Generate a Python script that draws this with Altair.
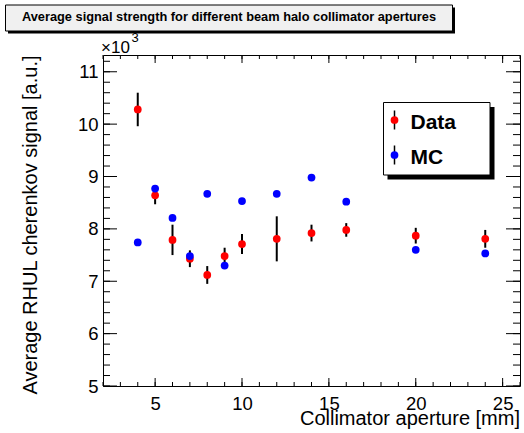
import altair as alt
import pandas as pd

# ---- data (values in units of 10^3 a.u.) ----
aperture = [4, 5, 6, 7, 8, 9, 10, 12, 14, 16, 20, 24]
data_val = [10.28, 8.64, 7.79, 7.43, 7.12, 7.48, 7.71, 7.81, 7.92, 7.98, 7.87, 7.81]
data_err = [0.32, 0.17, 0.29, 0.16, 0.17, 0.16, 0.19, 0.43, 0.16, 0.13, 0.15, 0.17]
mc_val = [7.74, 8.77, 8.21, 7.48, 8.67, 7.30, 8.53, 8.67, 8.98, 8.52, 7.60, 7.53]

series_names = ["Data", "MC"]
series_colors = ["#ff0000", "#0000ff"]

x_major = [5, 10, 15, 20, 25]
x_minor = list(range(2, 27))
y_major = [5, 6, 7, 8, 9, 10, 11]
y_minor = [round(5 + 0.2 * i, 1) for i in range(32)]

title_text = "Average signal strength for different beam halo collimator apertures"
x_title = "Collimator aperture [mm]"
y_title = "Average RHUL cherenkov signal [a.u.]"

W, H = 417, 331
FONT = "Liberation Sans"

data_df = pd.DataFrame({"x": aperture, "y": data_val,
                        "lo": [v - e for v, e in zip(data_val, data_err)],
                        "hi": [v + e for v, e in zip(data_val, data_err)],
                        "s": "Data"})
mc_df = pd.DataFrame({"x": aperture, "y": mc_val, "s": "MC"})

xs = alt.Scale(domain=[2, 26], nice=False, zero=False)
ys = alt.Scale(domain=[5, 11.32], nice=False, zero=False)
cs = alt.Scale(domain=series_names, range=series_colors)

x_axis = alt.Axis(values=x_major, ticks=False, domain=False, grid=False,
                  labelFontSize=18.5, labelPadding=8, labelFont=FONT, labelColor="black",
                  title=None)
y_axis = alt.Axis(values=y_major, ticks=False, domain=False, grid=False,
                  labelFontSize=18.5, labelPadding=5, labelFont=FONT, labelColor="black",
                  title=y_title, titleFont=FONT, titleFontSize=20, titleFontWeight="normal",
                  titleColor="black", titleAngle=270, titleAlign="right",
                  titleAnchor="end", titleBaseline="alphabetic", titleX=-67, titleY=0)

err = alt.Chart(data_df).mark_rule(color="black", strokeWidth=2).encode(
    x=alt.X("x:Q", scale=xs, axis=x_axis),
    y=alt.Y("lo:Q", scale=ys, axis=y_axis),
    y2="hi:Q",
)
pts_data = alt.Chart(data_df).mark_circle(size=60, opacity=1).encode(
    x=alt.X("x:Q", scale=xs), y=alt.Y("y:Q", scale=ys, axis=None),
    color=alt.Color("s:N", scale=cs, legend=None),
)
pts_mc = alt.Chart(mc_df).mark_circle(size=60, opacity=1).encode(
    x=alt.X("x:Q", scale=xs), y=alt.Y("y:Q", scale=ys, axis=None),
    color=alt.Color("s:N", scale=cs, legend=None),
)

# inward ticks on all four sides
xmaj = pd.DataFrame({"v": x_major})
xmin = pd.DataFrame({"v": x_minor})
ymaj = pd.DataFrame({"v": y_major})
ymin = pd.DataFrame({"v": y_minor})

def xticks(df, ln):
    b = alt.Chart(df).mark_rule(color="black", strokeWidth=1).encode(
        x=alt.X("v:Q", scale=xs), y=alt.value(H), y2=alt.value(H - ln))
    t = alt.Chart(df).mark_rule(color="black", strokeWidth=1).encode(
        x=alt.X("v:Q", scale=xs), y=alt.value(0), y2=alt.value(ln))
    return b + t

def yticks(df, ln):
    l = alt.Chart(df).mark_rule(color="black", strokeWidth=1).encode(
        y=alt.Y("v:Q", scale=ys, axis=None), x=alt.value(0), x2=alt.value(ln))
    r = alt.Chart(df).mark_rule(color="black", strokeWidth=1).encode(
        y=alt.Y("v:Q", scale=ys, axis=None), x=alt.value(W), x2=alt.value(W - ln))
    return l + r

ticks = xticks(xmaj, 8) + xticks(xmin, 4) + yticks(ymaj, 14) + yticks(ymin, 7)

one = pd.DataFrame({"k": [0]})

# x axis title (right-aligned, ROOT style)
xtitle = alt.Chart(pd.DataFrame({"t": [x_title]})).mark_text(
    font=FONT, fontSize=20, color="black", align="right", baseline="alphabetic").encode(
    x=alt.value(W), y=alt.value(H + 39), text="t:N")

# title box (ROOT style, with shadow)
tshadow = alt.Chart(one).mark_rect(color="black").encode(
    x=alt.value(-95), x2=alt.value(352), y=alt.value(-47.5), y2=alt.value(-21.5))
tbox = alt.Chart(one).mark_rect(fill="#f0f0f0", stroke="black", strokeWidth=1).encode(
    x=alt.value(-97.5), x2=alt.value(349.5), y=alt.value(-50), y2=alt.value(-24))
ttext = alt.Chart(pd.DataFrame({"t": [title_text]})).mark_text(
    font=FONT, fontSize=12.8, fontWeight="bold", color="black", align="center",
    baseline="alphabetic").encode(x=alt.value(126), y=alt.value(-34), text="t:N")

# x10^3 exponent label
exp_base = alt.Chart(pd.DataFrame({"t": ["×10"]})).mark_text(
    font=FONT, fontSize=17, color="black", align="left", baseline="alphabetic").encode(
    x=alt.value(-2), y=alt.value(-2), text="t:N")
exp_sup = alt.Chart(pd.DataFrame({"t": ["3"]})).mark_text(
    font=FONT, fontSize=13, color="black", align="left", baseline="alphabetic").encode(
    x=alt.value(28.5), y=alt.value(-13.5), text="t:N")

# legend box
lshadow = alt.Chart(one).mark_rect(color="black").encode(
    x=alt.value(284.5), x2=alt.value(391.5), y=alt.value(52), y2=alt.value(124.5))
lbox = alt.Chart(one).mark_rect(fill="white", stroke="black", strokeWidth=1).encode(
    x=alt.value(280.5), x2=alt.value(387), y=alt.value(47.5), y2=alt.value(120))
leg_df = pd.DataFrame({"s": series_names, "py": [65, 100], "ty": [73.5, 108.5]})
leg_err = alt.Chart(leg_df).transform_calculate(
    a="datum.py - 9.5", b="datum.py + 9.5").mark_rule(color="black", strokeWidth=1.5).encode(
    x=alt.value(291.5), y=alt.Y("a:Q", scale=None, axis=None), y2=alt.Y2("b:Q"))
leg_pts = alt.Chart(leg_df).mark_circle(size=60, opacity=1).encode(
    x=alt.value(291.5), y=alt.Y("py:Q", scale=None, axis=None),
    color=alt.Color("s:N", scale=cs, legend=None))
leg_txt = alt.Chart(leg_df).mark_text(
    font=FONT, fontSize=21, fontWeight="bold", color="black", align="left",
    baseline="alphabetic").encode(
    x=alt.value(307.5), y=alt.Y("ty:Q", scale=None, axis=None), text="s:N")

chart = alt.layer(
    err, ticks, pts_data, pts_mc, xtitle,
    tshadow, tbox, ttext, exp_base, exp_sup,
    lshadow, lbox, leg_err, leg_pts, leg_txt,
).resolve_scale(y="independent").properties(
    width=W, height=H,
    autosize=alt.AutoSizeParams(type="none"),
    padding={"left": 103, "top": 55, "right": 4, "bottom": 47},
    background="white",
).configure_view(stroke="black", strokeWidth=1)

chart.save("out.html", embed_options={"renderer": "svg", "actions": False})
